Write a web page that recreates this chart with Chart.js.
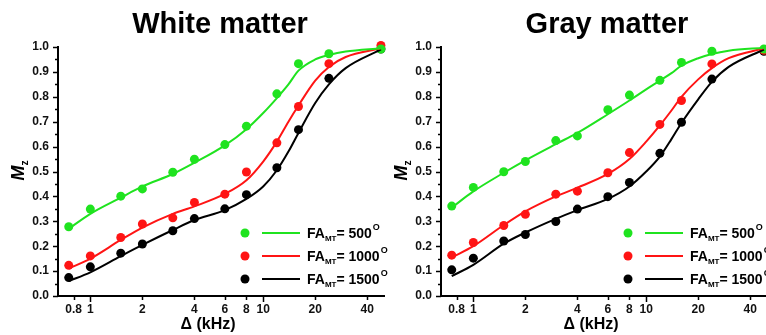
<!DOCTYPE html>
<html>
<head>
<meta charset="utf-8">
<script src="https://cdn.jsdelivr.net/npm/chart.js@4"></script>
<style>
    html, body { margin: 0; padding: 0; background: #fff; overflow: hidden; }
    #wrap { position: relative; width: 766px; height: 335px; overflow: hidden; }
    canvas { position: absolute; top: 0; }
</style>
</head>
<body>
<div id="wrap">
    <canvas id="whiteChart" width="400" height="335" style="left:0px"></canvas>
    <canvas id="grayChart" width="400" height="335" style="left:383px"></canvas>
</div>
<script>
// Measured offsets (kHz) and Mz values
const pointX = [0.75, 1, 1.5, 2, 3, 4, 6, 8, 12, 16, 24, 48];
const curveX = [0.75, 1, 1.5, 2, 3, 4, 6, 8, 10, 12, 14, 16, 20, 24, 30, 48];
const xTickValues = [0.8, 1, 2, 4, 6, 8, 10, 20, 40];
const legendLabels = ['500', '1000', '1500'];
const seriesColors = ['#1fe31f', '#ff1414', '#000000'];

// White matter
const wm500 = [0.278, 0.349, 0.401, 0.430, 0.497, 0.549, 0.608, 0.682, 0.812, 0.933, 0.973, 0.992];
const wm1000 = [0.123, 0.161, 0.235, 0.289, 0.314, 0.376, 0.409, 0.498, 0.615, 0.761, 0.933, 1.006];
const wm1500 = [0.074, 0.117, 0.172, 0.209, 0.262, 0.311, 0.350, 0.407, 0.515, 0.668, 0.874, 0.992];
const wm500Fit = [0.27, 0.33, 0.395, 0.44, 0.49, 0.535, 0.605, 0.67, 0.735, 0.795, 0.85, 0.905, 0.95, 0.968, 0.982, 0.995];
const wm1000Fit = [0.11, 0.15, 0.225, 0.275, 0.33, 0.36, 0.41, 0.465, 0.54, 0.62, 0.70, 0.765, 0.865, 0.92, 0.96, 0.995];
const wm1500Fit = [0.06, 0.095, 0.16, 0.205, 0.265, 0.305, 0.345, 0.39, 0.44, 0.505, 0.58, 0.655, 0.775, 0.85, 0.915, 0.99];

// Gray matter
const gm500 = [0.361, 0.436, 0.499, 0.540, 0.624, 0.643, 0.748, 0.807, 0.866, 0.938, 0.983, 0.992];
const gm1000 = [0.164, 0.215, 0.283, 0.328, 0.409, 0.421, 0.495, 0.576, 0.689, 0.785, 0.932, 0.987];
const gm1500 = [0.105, 0.152, 0.221, 0.247, 0.299, 0.349, 0.399, 0.456, 0.573, 0.698, 0.871, 0.983];
const gm500Fit = [0.355, 0.42, 0.495, 0.545, 0.61, 0.655, 0.73, 0.785, 0.83, 0.865, 0.895, 0.925, 0.955, 0.972, 0.985, 0.997];
const gm1000Fit = [0.155, 0.20, 0.285, 0.34, 0.40, 0.435, 0.49, 0.55, 0.62, 0.685, 0.745, 0.80, 0.87, 0.915, 0.955, 0.995];
const gm1500Fit = [0.08, 0.125, 0.21, 0.255, 0.31, 0.345, 0.39, 0.44, 0.50, 0.56, 0.63, 0.695, 0.79, 0.86, 0.92, 0.99];

const FONT = "'Liberation Sans', Arial, sans-serif";

function toXY(xs, ys) {
    return xs.map((x, i) => ({ x: x, y: ys[i] }));
}

/**
 * Draws title, axis titles, minor/major tick marks and the inline legend
 */
const panelDecor = {
    id: 'panelDecor',
    afterDraw(chart, args, opts) {
        const ctx = chart.ctx;
        const area = chart.chartArea;
        const xs = chart.scales.x;
        const ys = chart.scales.y;
        ctx.save();

        // title
        ctx.fillStyle = '#000';
        ctx.font = 'bold 29px ' + FONT;
        ctx.textAlign = 'center';
        ctx.textBaseline = 'alphabetic';
        ctx.fillText(opts.title, opts.titleX, 33);

        // tick marks
        ctx.strokeStyle = '#000';
        ctx.lineWidth = 1.5;
        ctx.beginPath();
        for (let i = 0; i <= 20; i++) {
            const y = Math.round(ys.getPixelForValue(i * 0.05)) + 0.5;
            const len = i % 2 === 0 ? 5 : 3;
            ctx.moveTo(area.left - len, y);
            ctx.lineTo(area.left, y);
        }
        xTickValues.forEach(v => {
            const x = Math.round(xs.getPixelForValue(v)) + 0.5;
            const len = (v === 1 || v === 10) ? 6 : 4;
            ctx.moveTo(x, area.bottom);
            ctx.lineTo(x, area.bottom + len);
        });
        ctx.stroke();

        // x axis title
        ctx.font = 'bold 16px ' + FONT;
        ctx.textAlign = 'center';
        ctx.fillText('\u0394 (kHz)', 208, 329);

        // y axis title M_z
        ctx.save();
        ctx.translate(24, 170);
        ctx.rotate(-Math.PI / 2);
        ctx.font = 'italic bold 18px ' + FONT;
        ctx.textAlign = 'left';
        const mW = ctx.measureText('M').width;
        ctx.fillText('M', -mW / 2 - 3, 0);
        ctx.font = 'bold 10px ' + FONT;
        ctx.fillText('z', mW / 2 - 3, 4);
        ctx.restore();

        // legend
        const rowsY = [233, 256, 279];
        rowsY.forEach((ry, i) => {
            ctx.fillStyle = seriesColors[i];
            ctx.beginPath();
            ctx.arc(245, ry, 4.5, 0, Math.PI * 2);
            ctx.fill();
            ctx.strokeStyle = seriesColors[i];
            ctx.lineWidth = 2;
            ctx.beginPath();
            ctx.moveTo(262, ry);
            ctx.lineTo(300, ry);
            ctx.stroke();

            ctx.fillStyle = '#000';
            ctx.textAlign = 'left';
            let tx = 307;
            const base = ry + 5;
            ctx.font = 'bold 14px ' + FONT;
            ctx.fillText('FA', tx, base);
            tx += ctx.measureText('FA').width;
            ctx.font = 'bold 8px ' + FONT;
            ctx.fillText('MT', tx, base + 3);
            tx += ctx.measureText('MT').width;
            ctx.font = 'bold 14px ' + FONT;
            const t = '= ' + legendLabels[i];
            ctx.fillText(t, tx, base);
            tx += ctx.measureText(t).width + 1;
            ctx.font = 'bold 9px ' + FONT;
            ctx.fillText('O', tx, base - 8);
        });

        ctx.restore();
    }
};

function buildChart(canvasId, title, titleX, pts, fits) {
    const datasets = [];
    fits.forEach((ys, i) => {
        datasets.push({
            data: toXY(curveX, ys),
            showLine: true,
            borderColor: seriesColors[i],
            borderWidth: 2,
            pointRadius: 0,
            cubicInterpolationMode: 'monotone',
            clip: false
        });
    });
    pts.forEach((ys, i) => {
        datasets.push({
            data: toXY(pointX, ys),
            showLine: false,
            backgroundColor: seriesColors[i],
            borderColor: seriesColors[i],
            pointRadius: 4.5,
            pointBorderWidth: 0,
            clip: false
        });
    });

    return new Chart(document.getElementById(canvasId).getContext('2d'), {
        type: 'scatter',
        data: { datasets: datasets },
        options: {
            responsive: false,
            animation: false,
            events: [],
            layout: { padding: { left: 0, right: 16, top: 47, bottom: 0 } },
            plugins: {
                legend: { display: false },
                tooltip: { enabled: false },
                panelDecor: { title: title, titleX: titleX }
            },
            scales: {
                x: {
                    type: 'logarithmic',
                    min: 0.65,
                    max: 50,
                    afterBuildTicks: scale => {
                        scale.ticks = xTickValues.map(v => ({ value: v }));
                    },
                    afterFit: scale => { scale.height = 39; },
                    grid: { display: false, drawTicks: false },
                    border: { display: true, color: '#000', width: 2 },
                    ticks: {
                        autoSkip: false,
                        maxRotation: 0,
                        padding: 6,
                        color: '#111',
                        font: { family: FONT, weight: 'bold', size: 12 },
                        callback: v => String(v)
                    }
                },
                y: {
                    min: 0,
                    max: 1,
                    afterFit: scale => { scale.width = 58; },
                    grid: { display: false, drawTicks: false },
                    border: { display: true, color: '#000', width: 2 },
                    ticks: {
                        stepSize: 0.1,
                        padding: 9,
                        color: '#111',
                        font: { family: FONT, weight: 'bold', size: 12 },
                        callback: v => v.toFixed(1)
                    }
                }
            }
        },
        plugins: [panelDecor]
    });
}

document.addEventListener('DOMContentLoaded', function() {
    buildChart('whiteChart', 'White matter', 220, [wm500, wm1000, wm1500], [wm500Fit, wm1000Fit, wm1500Fit]);
    buildChart('grayChart', 'Gray matter', 224, [gm500, gm1000, gm1500], [gm500Fit, gm1000Fit, gm1500Fit]);
});
</script>
</body>
</html>
